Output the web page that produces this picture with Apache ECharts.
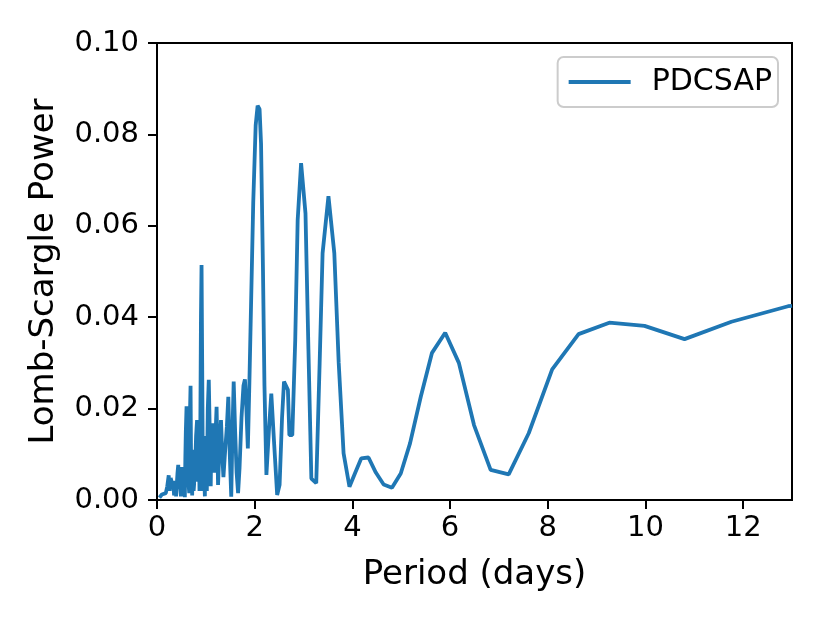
<!DOCTYPE html>
<html lang="en">
  <head>
    <meta charset="UTF-8" />
    <title>Lomb-Scargle periodogram</title>
    <script src="https://cdn.jsdelivr.net/npm/echarts@6.0.0/dist/echarts.min.js"></script>
    <style>
      body { margin: 0; background: #fff; }
    </style>
  </head>
  <body>
    <div id="main" style="width: 830px; height: 623px"></div>
    <script type="text/javascript">
      // period (days) and Lomb-Scargle power
      const period = [
        0.05, 0.10, 0.14, 0.18, 0.21, 0.24, 0.26, 0.28, 0.31, 0.33,
        0.35, 0.37, 0.39, 0.42, 0.435, 0.45, 0.47, 0.49, 0.51, 0.53,
        0.55, 0.57, 0.58, 0.59, 0.605, 0.615, 0.62, 0.63, 0.64, 0.65,
        0.66, 0.675, 0.687, 0.695, 0.70, 0.71, 0.72, 0.73, 0.74, 0.75,
        0.76, 0.77, 0.78, 0.80, 0.82, 0.83, 0.84, 0.85, 0.86, 0.87,
        0.88, 0.90, 0.912, 0.925, 0.94, 0.95, 0.96, 0.97, 0.98, 0.99,
        1.00, 1.01, 1.02, 1.04, 1.06, 1.08, 1.09, 1.10, 1.11, 1.12,
        1.15, 1.17, 1.19, 1.22, 1.25, 1.28, 1.31, 1.34, 1.36, 1.39,
        1.43, 1.46, 1.49, 1.52, 1.545, 1.57, 1.60, 1.63, 1.66, 1.69,
        1.73, 1.77, 1.80, 1.83, 1.86, 1.89, 1.93, 1.97, 2.02, 2.06,
        2.10, 2.13, 2.17, 2.20, 2.24, 2.29, 2.34, 2.40, 2.46, 2.51,
        2.56, 2.60, 2.68, 2.71, 2.77, 2.83, 2.88, 2.95, 3.04, 3.10,
        3.16, 3.26, 3.33, 3.39, 3.51, 3.63, 3.72, 3.82, 3.94, 4.06,
        4.18, 4.33, 4.48, 4.64, 4.81, 4.99, 5.18, 5.40, 5.63, 5.90,
        6.18, 6.49, 6.83, 7.20, 7.61, 8.09, 8.63, 9.26, 9.98, 10.80,
        11.76, 12.92, 13.0
      ];
      const power = [
        0.0005, 0.0012, 0.0008, 0.0015, 0.0030, 0.0054, 0.0020, 0.0048, 0.0035, 0.0042,
        0.0010, 0.0030, 0.0008, 0.0060, 0.0077, 0.0025, 0.0040, 0.0008, 0.0072, 0.0030,
        0.0050, 0.0006, 0.0090, 0.0150, 0.0205, 0.0080, 0.0040, 0.0100, 0.0120, 0.0030,
        0.0015, 0.0190, 0.0250, 0.0120, 0.0060, 0.0090, 0.0010, 0.0070, 0.0110, 0.0020,
        0.0035, 0.0090, 0.0070, 0.0140, 0.0175, 0.0060, 0.0040, 0.0120, 0.0100, 0.0020,
        0.0030, 0.0400, 0.0514, 0.0300, 0.0020, 0.0090, 0.0140, 0.0040, 0.0008, 0.0120,
        0.0100, 0.0030, 0.0020, 0.0200, 0.0263, 0.0150, 0.0060, 0.0030, 0.0110, 0.0090,
        0.0168, 0.0060, 0.0120, 0.0204, 0.0033, 0.0120, 0.0175, 0.0090, 0.0050, 0.0100,
        0.0160, 0.0226, 0.0100, 0.0007, 0.0150, 0.0259, 0.0150, 0.0060, 0.0015, 0.0070,
        0.0180, 0.0250, 0.0264, 0.0200, 0.0113, 0.0250, 0.0450, 0.0650, 0.0820, 0.0863,
        0.0855, 0.0780, 0.0500, 0.0250, 0.0055, 0.0150, 0.0233, 0.0120, 0.0011, 0.0033,
        0.0180, 0.0259, 0.0241, 0.0142, 0.0142, 0.0350, 0.0613, 0.0737, 0.0627, 0.0330,
        0.0047, 0.0037, 0.0300, 0.0540, 0.0665, 0.0540, 0.0300, 0.0102, 0.0029, 0.0060,
        0.0091, 0.0093, 0.0060, 0.0034, 0.0027, 0.0058, 0.0124, 0.0226, 0.0322, 0.0366,
        0.0300, 0.0164, 0.0066, 0.0056, 0.0146, 0.0286, 0.0363, 0.0388, 0.0381, 0.0352,
        0.0390, 0.0424, 0.0425
      ];
      const seriesName = 'PDCSAP';

      const font = 'DejaVu Sans';
      let myChart = echarts.init(document.getElementById('main'));

      let options = {
        animation: false,
        grid: {
          left: 157, right: 38, top: 43, bottom: 123,
          show: true, borderColor: '#000', borderWidth: 2,
          containLabel: false
        },
        legend: {
          data: [seriesName],
          right: 52, top: 57,
          padding: [10, 6, 10, 11],
          borderColor: '#cccccc', borderWidth: 2, borderRadius: 6,
          icon: 'rect',
          itemWidth: 62, itemHeight: 4,
          textStyle: { fontFamily: font, fontSize: 30, color: '#000', padding: [0, 0, 0, 16] }
        },
        xAxis: {
          type: 'value',
          min: 0, max: 13, interval: 2,
          name: 'Period (days)',
          nameLocation: 'middle', nameGap: 58,
          nameTextStyle: { fontFamily: font, fontSize: 34, color: '#000' },
          axisLine: { show: true, onZero: false, lineStyle: { color: '#000', width: 2 } },
          axisTick: { show: true, length: 9, lineStyle: { color: '#000', width: 2 } },
          axisLabel: { fontFamily: font, fontSize: 29, color: '#000', margin: 14, showMaxLabel: false },
          splitLine: { show: false }
        },
        yAxis: {
          type: 'value',
          min: 0, max: 0.1, interval: 0.02,
          name: 'Lomb-Scargle Power',
          nameLocation: 'middle', nameGap: 96,
          nameTextStyle: { fontFamily: font, fontSize: 34, color: '#000' },
          axisLine: { show: true, lineStyle: { color: '#000', width: 2 } },
          axisTick: { show: true, length: 9, lineStyle: { color: '#000', width: 2 } },
          axisLabel: {
            fontFamily: font, fontSize: 29, color: '#000', margin: 18,
            formatter: (v) => v.toFixed(2)
          },
          splitLine: { show: false }
        },
        series: [
          {
            name: seriesName,
            type: 'line',
            data: period.map((p, i) => [p, power[i]]),
            symbol: 'none',
            clip: true,
            lineStyle: { color: '#1f77b4', width: 3.8 },
            itemStyle: { color: '#1f77b4' }
          }
        ]
      };

      myChart.setOption(options);
    </script>
  </body>
</html>
